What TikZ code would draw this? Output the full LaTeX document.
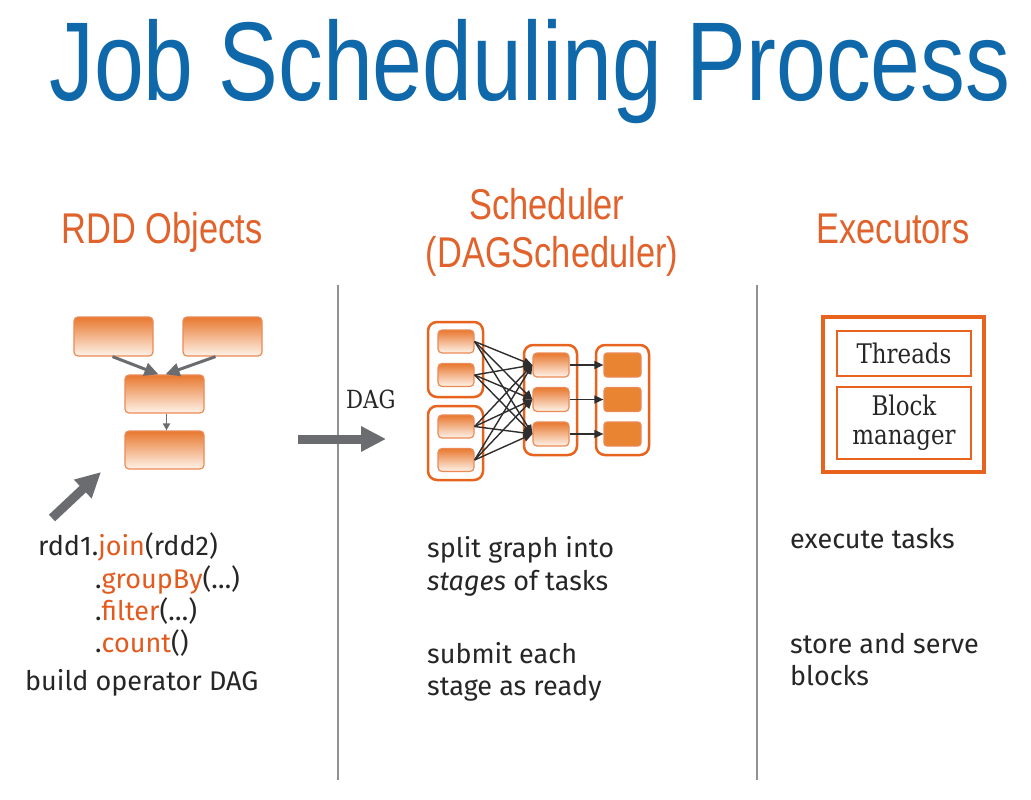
\documentclass[tikz,border=0pt]{standalone}
\usepackage{fontspec}
\setmainfont{Fira Sans}
\newfontfamily\headfont[FakeStretch=0.8]{Liberation Sans}
\newfontfamily\slabfont[FakeStretch=0.85]{DejaVu Serif}
\usetikzlibrary{arrows.meta}
\definecolor{tblue}{HTML}{0F68AA}
\definecolor{horange}{HTML}{E1622B}
\definecolor{borange}{HTML}{E8641E}
\definecolor{lorange}{HTML}{EC8A55}
\definecolor{gtop}{HTML}{E8782F}
\definecolor{gbot}{HTML}{FEF3EA}
\definecolor{corange}{HTML}{E35A1E}
\definecolor{sorange}{HTML}{E88432}
\definecolor{agray}{HTML}{6B6C6F}
\definecolor{lgray}{HTML}{8F9193}
\definecolor{dtext}{HTML}{262626}
\definecolor{darrow}{HTML}{2E2E2E}
\tikzset{
  heading/.style={anchor=base, inner sep=0, text=horange, font=\headfont\fontsize{43}{48}\selectfont},
  body/.style={anchor=base west, inner sep=0, text=dtext, font=\fontsize{27}{30}\selectfont},
  gradbox/.style={draw=lorange, line width=1.2pt, rounded corners=4pt, top color=gtop, bottom color=gbot, inner sep=0},
  stagebox/.style={draw=borange, line width=2.5pt, rounded corners=9pt, inner sep=0},
  solidbox/.style={draw=lorange, line width=1.2pt, rounded corners=3pt, fill=sorange, inner sep=0},
  exbox/.style={draw=borange, line width=2pt, inner sep=0, text=dtext, align=center, font=\slabfont\fontsize{27}{30}\selectfont},
  bigarrow/.style={draw=agray, line width=9pt, -{Triangle[length=25pt,width=24pt]}},
  midarrow/.style={draw=agray, line width=3pt, -{Triangle[length=14pt,width=13pt]}},
  smallarrow/.style={draw=agray, line width=1.8pt, -{Triangle[length=7pt,width=7pt]}},
  dagarrow/.style={draw=darrow, line width=1.4pt, -{Triangle[length=9pt,width=8pt]}},
  sep/.style={draw=lgray, line width=2pt}
}
\begin{document}
\begin{tikzpicture}[x=1pt,y=-1pt]
\useasboundingbox (0,0) rectangle (1031,800);
\fill[white] (0,0) rectangle (1031,800);

% title
\node[anchor=base, inner sep=0, text=tblue, font=\headfont\fontsize{112}{120}\selectfont] (title) at (530,100) {Job Scheduling Process};

% headings
\node[heading] (h1) at (162,243) {RDD Objects};
\node[heading] (h2) at (547,219) {Scheduler};
\node[heading] (h2b) at (552,267) {(DAGScheduler)};
\node[heading] (h3) at (893,243) {Executors};

% separators
\coordinate (s1t) at (338,285); \coordinate (s1b) at (338,780);
\coordinate (s2t) at (757,285); \coordinate (s2b) at (757,780);
\draw[sep] (s1t) -- (s1b);
\draw[sep] (s2t) -- (s2b);

% RDD boxes
\node[gradbox, minimum width=79pt, minimum height=39pt] (b1) at (113.5,336.5) {};
\node[gradbox, minimum width=79pt, minimum height=39pt] (b2) at (222.5,336.5) {};
\node[gradbox, minimum width=79pt, minimum height=38pt] (b3) at (164.5,394) {};
\node[gradbox, minimum width=79pt, minimum height=38pt] (b4) at (164.5,450) {};
\draw[midarrow] ([xshift=-1pt]b1.south) -- ([xshift=-6pt]b3.north);
\draw[midarrow] ([xshift=-7pt]b2.south) -- ([xshift=1pt]b3.north);
\draw[smallarrow] ([xshift=2pt]b3.south) -- ([xshift=2pt]b4.north);

% diagonal arrow
\coordinate (d1) at (52,518);
\coordinate (d2) at (101,472);
\draw[bigarrow] (d1) -- (d2);

% DAG arrow
\coordinate (g1) at (298,439);
\coordinate (g2) at (386,439);
\draw[bigarrow] (g1) -- (g2);
\node[anchor=base west, inner sep=0, text=dtext, font=\slabfont\fontsize{25}{28}\selectfont] (daglbl) at (346,408) {DAG};

% stage groups
\node[stagebox, minimum width=55pt, minimum height=75pt] (sg1) at (455.5,359.5) {};
\node[stagebox, minimum width=55pt, minimum height=74pt] (sg2) at (455.5,443) {};
\node[stagebox, minimum width=53pt, minimum height=110pt] (sg3) at (550.5,400) {};
\node[stagebox, minimum width=53pt, minimum height=110pt] (sg4) at (622.5,400) {};

\node[gradbox, minimum width=36pt, minimum height=23pt] (l1) at (456,341.5) {};
\node[gradbox, minimum width=36pt, minimum height=23pt] (l2) at (456,375) {};
\node[gradbox, minimum width=36pt, minimum height=23pt] (l3) at (456,426.5) {};
\node[gradbox, minimum width=36pt, minimum height=23pt] (l4) at (456,460) {};

\node[gradbox, minimum width=36pt, minimum height=24pt] (m1) at (551,365) {};
\node[gradbox, minimum width=36pt, minimum height=24pt] (m2) at (551,399.5) {};
\node[gradbox, minimum width=36pt, minimum height=24pt] (m3) at (551,434) {};

\node[solidbox, minimum width=37pt, minimum height=24pt] (r1) at (622.5,365) {};
\node[solidbox, minimum width=37pt, minimum height=24pt] (r2) at (622.5,399.5) {};
\node[solidbox, minimum width=37pt, minimum height=24pt] (r3) at (622.5,434) {};

\foreach \a in {l1,l2,l3,l4}
  \foreach \b in {m1,m2,m3}
    \draw[dagarrow] (\a.east) -- (\b.west);
\draw[dagarrow] (m1.east) -- (r1.west);
\draw[dagarrow] (m2.east) -- (r2.west);
\draw[dagarrow] (m3.east) -- (r3.west);

% executors
\node[draw=borange, line width=3.5pt, minimum width=161pt, minimum height=155pt, inner sep=0] (ex) at (903.5,394.5) {};
\node[exbox, minimum width=134pt, minimum height=45pt] (thr) at (904,353.5) {Threads};
\node[exbox, minimum width=134pt, minimum height=72pt] (bm) at (904,423) {Block\\[-1pt]manager};

% left text
\node[body] (c1) at (38,555) {rdd1.\textcolor{corange}{join}(rdd2)};
\node[body] (c2) at (95,588) {.\textcolor{corange}{groupBy}(\dots)};
\node[body] (c3) at (95,620) {.\textcolor{corange}{filter}(\dots)};
\node[body] (c4) at (95,652) {.\textcolor{corange}{count}()};
\node[body] (c5) at (25,690) {build operator DAG};

% middle text
\node[body] (t1) at (427,557) {split graph into};
\node[body] (t2) at (427,590) {\textit{stages} of tasks};
\node[body] (t3) at (427,663) {submit each};
\node[body] (t4) at (427,695) {stage as ready};

% right text
\node[body] (e1) at (790,548) {execute tasks};
\node[body] (e2) at (790,653) {store and serve};
\node[body] (e3) at (790,685) {blocks};
\end{tikzpicture}
\end{document}
